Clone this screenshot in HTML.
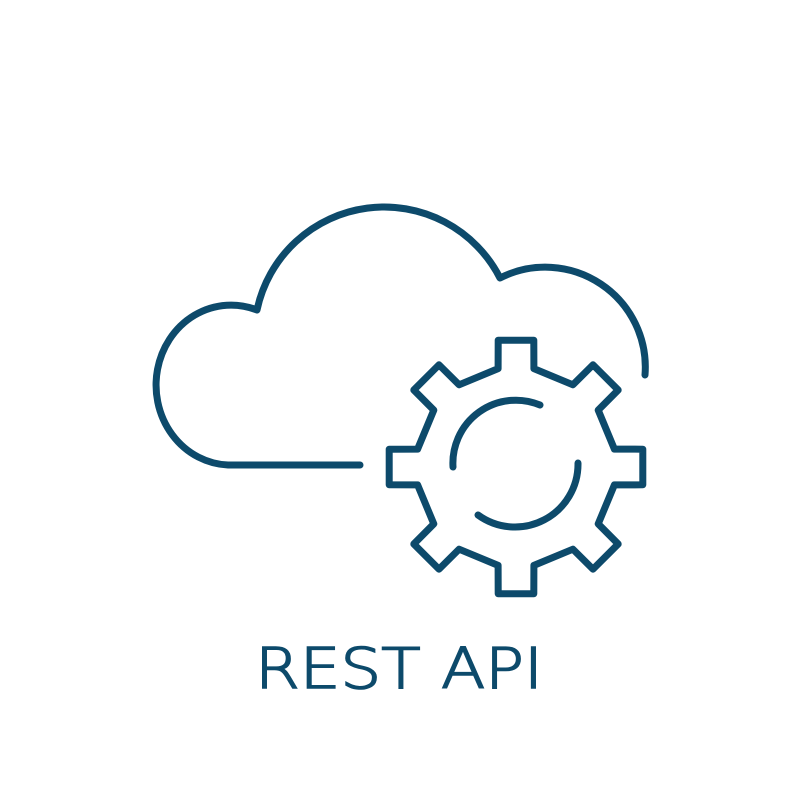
<!DOCTYPE html>
<html><head><meta charset="utf-8"><style>html,body{margin:0;padding:0;background:#fff;}svg{display:block}</style></head>
<body>
<svg width="800" height="800" viewBox="0 0 800 800" xmlns="http://www.w3.org/2000/svg">
<rect width="800" height="800" fill="#fff"/>
<g fill="none" stroke="#0d4a6b" stroke-width="7" stroke-linecap="round" stroke-linejoin="round">
<path d="M360,465 L228,465 A75,80 0 1 1 257,310 A130,130 0 0 1 500,278 A100,100 0 0 1 645,375"/>
<polygon points="614.4,449.1 642.8,449.2 642.8,484.8 614.4,484.9 598.2,523.9 618.2,544.0 593.0,569.2 572.9,549.2 533.9,565.4 533.8,593.8 498.2,593.8 498.1,565.4 459.1,549.2 439.0,569.2 413.8,544.0 433.8,523.9 417.6,484.9 389.2,484.8 389.2,449.2 417.6,449.1 433.8,410.1 413.8,390.0 439.0,364.8 459.1,384.8 498.1,368.6 498.2,340.2 533.8,340.2 533.9,368.6 572.9,384.8 593.0,364.8 618.2,390.0 598.2,410.1"/>
<path d="M540,405 A63,63 0 0 0 453,467"/>
<path d="M578,463 A63,63 0 0 1 478,515"/>
</g>
<text x="399" y="688" text-anchor="middle" font-family="DejaVu Sans, sans-serif" font-weight="200" font-size="56" fill="#0d4a6b" stroke="#0d4a6b" stroke-width="1.6" textLength="288" lengthAdjust="spacingAndGlyphs">REST API</text>
</svg>
</body></html>
